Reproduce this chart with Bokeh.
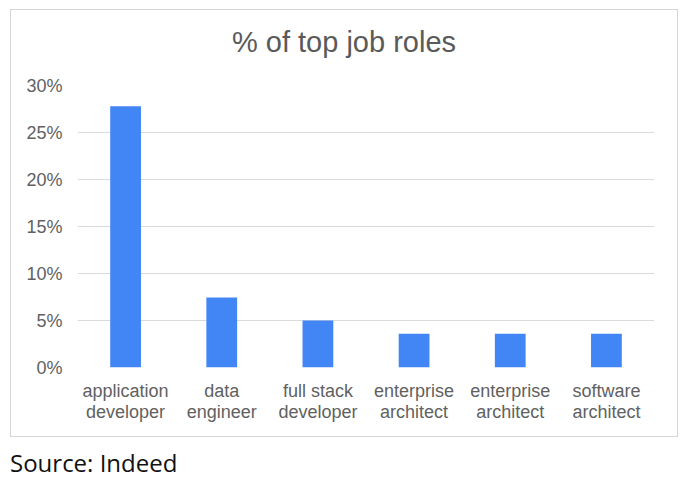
from bokeh.plotting import figure
from bokeh.models import Range1d, FixedTicker, Div
from bokeh.layouts import column
from bokeh.embed import file_html
from bokeh.resources import INLINE

# ---- data ----
categories = ["application\ndeveloper", "data\nengineer", "full stack\ndeveloper",
              "enterprise\narchitect", "enterprise\narchitect", "software\narchitect"]
shares = [27.8, 7.45, 5.0, 3.6, 3.6, 3.6]
y_ticks = [0, 5, 10, 15, 20, 25, 30]
y_tick_labels = ["0%", "5%", "10%", "15%", "20%", "25%", "30%"]
title_text = "% of top job roles"
source_text = "Source: Indeed"

positions = list(range(len(categories)))

FONT = "Liberation Sans"
GREY = "#616161"

title_div = Div(text=title_text, width=666, height=38,
                styles={"font-family": FONT, "font-size": "29px", "line-height": "29px",
                        "color": "#5a5a5a", "text-align": "center", "width": "666px"})
title_div.margin = (18, 0, 0, 0)

p = figure(width=666, height=370,
           x_range=Range1d(-0.5, len(categories) - 0.5),
           y_range=Range1d(0, 30),
           output_backend="svg", toolbar_location=None,
           min_border_left=66, min_border_right=23,
           min_border_top=19, min_border_bottom=69)
p.margin = (0, 0, 0, 0)

p.vbar(x=positions, top=shares, width=0.32, color="#4285f4", line_color=None)

# axes
p.xaxis.ticker = FixedTicker(ticks=positions)
p.xaxis.major_label_overrides = {pos: lab for pos, lab in zip(positions, categories)}
p.yaxis.ticker = FixedTicker(ticks=y_ticks)
p.yaxis.major_label_overrides = {t: lab for t, lab in zip(y_ticks, y_tick_labels)}

for ax in (p.xaxis, p.yaxis):
    ax.axis_line_color = None
    ax.major_tick_line_color = None
    ax.minor_tick_line_color = None
    ax.major_label_text_font = FONT
    ax.major_label_text_color = GREY

p.xaxis.major_label_text_font_size = "18px"
p.xaxis.major_label_text_line_height = 1.05
p.xaxis.major_label_standoff = 7
p.yaxis.major_label_text_font_size = "18px"
p.yaxis.major_label_standoff = 9

p.xgrid.grid_line_color = None
p.ygrid.grid_line_color = "#dadada"
p.ygrid.grid_line_width = 1
p.outline_line_color = None

box = column(title_div, p, spacing=0,
             styles={"border": "1px solid #d6d6d6"})
box.margin = (9, 0, 0, 10)

src = Div(text=source_text, width=300, height=26,
          styles={"font-family": "Open Sans", "font-size": "24px",
                  "font-weight": "500", "color": "#111111", "line-height": "1"})
src.margin = (14, 0, 0, 10)

layout = column(box, src, spacing=0)

with open("out.html", "w") as f:
    f.write(file_html(layout, INLINE))
